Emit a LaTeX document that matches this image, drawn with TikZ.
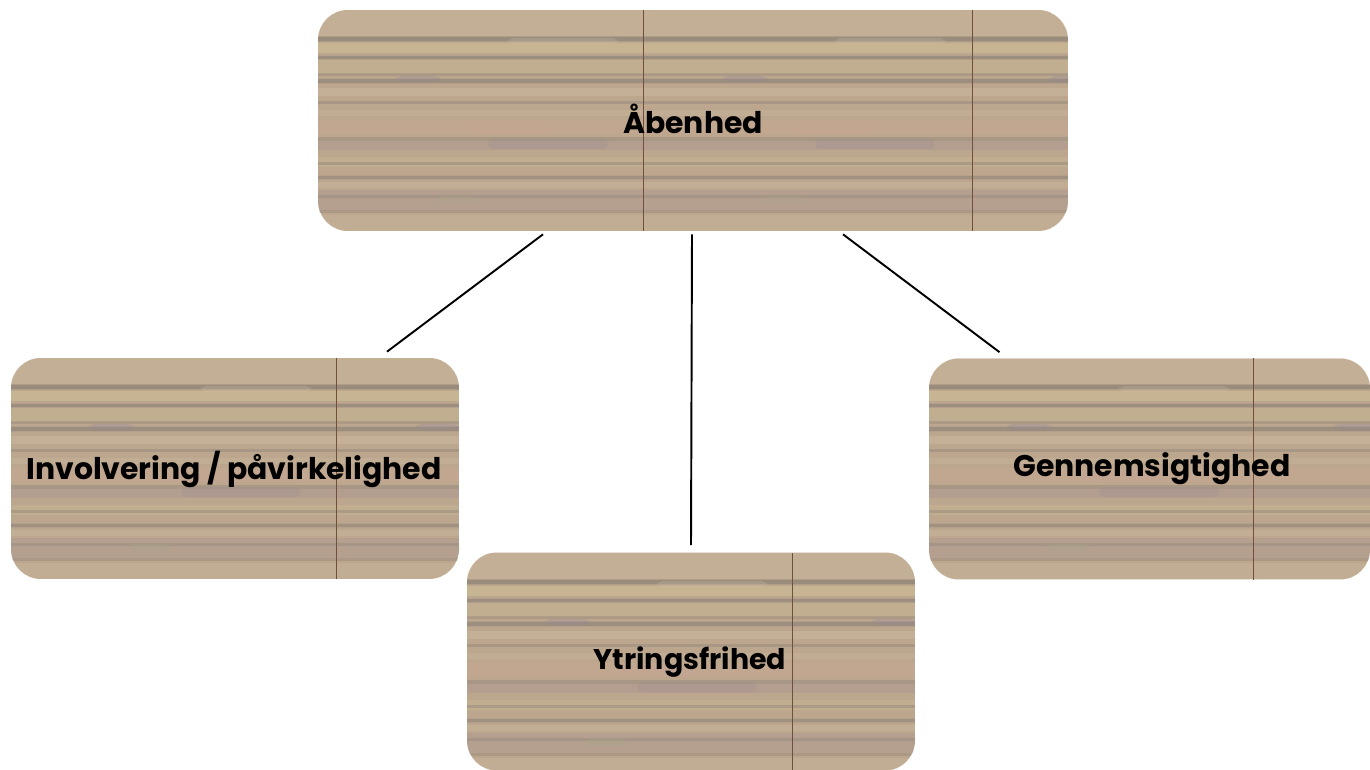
\documentclass[tikz,border=0pt]{standalone}
\usepackage{fontspec}
\setmainfont{Poppins}[BoldFont={Poppins Bold}]
\usetikzlibrary{calc}
\definecolor{woodbase}{RGB}{188,166,142}
\definecolor{wooddark}{RGB}{132,124,116}
\definecolor{woodlight}{RGB}{210,192,166}
\definecolor{woodyel}{RGB}{208,194,152}
\definecolor{woodpink}{RGB}{204,168,150}
\definecolor{woodpurp}{RGB}{150,134,150}
\definecolor{woodgreen}{RGB}{165,165,135}
\definecolor{seamcol}{RGB}{112,80,58}
\newcommand\woodstripes[4]{%
  \foreach \yy/\hh/\cc/\oo in {0/26/woodlight/.35,27/4/wooddark/.5,26/6/wooddark/.2,33/10/woodyel/.5,46/3/wooddark/.45,45/5/wooddark/.15,50/14/woodyel/.28,63/3/wooddark/.3,69/4/wooddark/.45,68/6/wooddark/.15,78/8/woodlight/.4,91/3/wooddark/.35,100/6/woodlight/.25,110/14/woodpink/.35,127/4/wooddark/.35,131/9/woodpurp/.22,147/10/woodyel/.28,152/3/wooddark/.35,166/3/wooddark/.4,165/5/wooddark/.15,172/6/woodlight/.3,180/20/woodpurp/.18,185/3/wooddark/.3,200/3/wooddark/.3,205/16/woodlight/.25}
    {\fill[\cc,opacity=\oo] (#1,#2+\yy) rectangle (#1+#3,#2+\yy+\hh);}
  \foreach \tt in {0,327,654}{
    \fill[woodpurp,opacity=.3,rounded corners=3pt] (#1+\tt+78,#2+66) rectangle (#1+\tt+122,#2+72);
    \fill[woodpurp,opacity=.2,rounded corners=3pt] (#1+\tt+170,#2+129) rectangle (#1+\tt+290,#2+139);
    \fill[woodgreen,opacity=.35,rounded corners=3pt] (#1+\tt+118,#2+186) rectangle (#1+\tt+160,#2+193);
    \fill[woodlight,opacity=.25,rounded corners=3pt] (#1+\tt+190,#2+28) rectangle (#1+\tt+300,#2+34);
    \fill[woodpink,opacity=.2,rounded corners=3pt] (#1+\tt+150,#2+115) rectangle (#1+\tt+230,#2+124);
  }%
}
\tikzset{
  x=0.02cm, y=-0.02cm,
  woodbox/.style={rectangle, rounded corners=0.6cm, fill=woodbase, inner sep=0pt},
  seam/.style={seamcol, line width=0.45pt},
  lbl/.style={font=\fontsize{17}{20}\selectfont\bfseries, text=black, inner sep=0pt},
  conn/.style={black, line width=1.1pt}
}
\begin{document}
\begin{tikzpicture}
\useasboundingbox (0,0) rectangle (1370,770);
% top box
\node[woodbox, minimum width=15cm, minimum height=4.42cm] (top) at (693,120.5) {};
\begin{scope}
  \clip[rounded corners=0.6cm] (top.south west) rectangle (top.north east);
  \woodstripes{318}{10}{750}{221}
  \draw[seam] (643,10) -- (643,231);
  \draw[seam] (972,10) -- (972,231);
\end{scope}
\node[lbl] (toptxt) at (693,119) {Åbenhed};
% left box
\node[woodbox, minimum width=8.96cm, minimum height=4.42cm] (left) at (235,468.5) {};
\begin{scope}
  \clip[rounded corners=0.6cm] (left.south west) rectangle (left.north east);
  \woodstripes{11}{358}{448}{221}
  \draw[seam] (336,358) -- (336,579);
\end{scope}
\node[lbl] (lefttxt) at (234,469) {Involvering / påvirkelighed};
% middle box
\node[woodbox, minimum width=8.96cm, minimum height=4.36cm] (mid) at (691,661.5) {};
\begin{scope}
  \clip[rounded corners=0.6cm] (mid.south west) rectangle (mid.north east);
  \woodstripes{467}{553}{448}{221}
  \draw[seam] (792,553) -- (792,770);
\end{scope}
\node[lbl, font=\fontsize{16.2}{19}\selectfont\bfseries] (midtxt) at (690,662) {Ytringsfrihed};
% right box
\node[woodbox, minimum width=8.82cm, minimum height=4.42cm] (right) at (1149.5,469) {};
\begin{scope}
  \clip[rounded corners=0.6cm] (right.south west) rectangle (right.north east);
  \woodstripes{929}{358}{441}{221}
  \draw[seam] (1253,358) -- (1253,580);
\end{scope}
\node[lbl] (righttxt) at (1152,469) {Gennemsigtighed};
% connectors
\coordinate (c1) at ($(top.south)+(-150,3)$);
\coordinate (c2) at ($(left.north)+(152,-6)$);
\coordinate (c3) at ($(top.south)+(-1,3)$);
\coordinate (c4) at ($(mid.north)+(0,-7)$);
\coordinate (c5) at ($(top.south)+(150,3)$);
\coordinate (c6) at ($(right.north)+(-150,-6)$);
\draw[conn] (c1) -- (c2);
\draw[conn] (c3) -- (c4);
\draw[conn] (c5) -- (c6);
\end{tikzpicture}
\end{document}
